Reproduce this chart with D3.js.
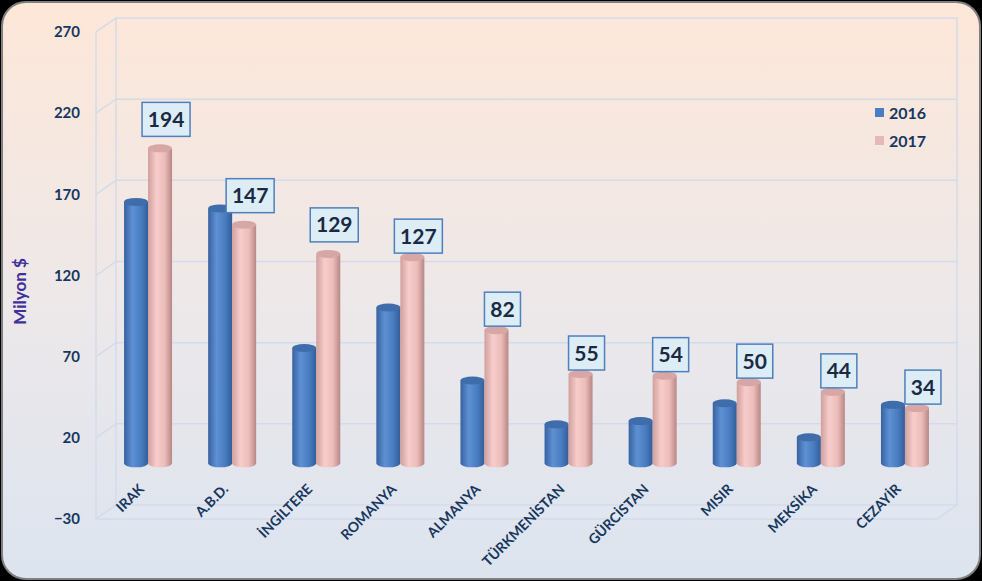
<!DOCTYPE html>
<html>
<head>
<meta charset="utf-8">
<script src="https://cdn.jsdelivr.net/npm/d3@7"></script>
<style>
  body { margin: 0; background: #000; }
  svg { display: block; font-family: Lato, "Open Sans", sans-serif; }
</style>
</head>
<body>
<svg id="drawing_region"></svg>
<script>
// chart values
const categories = ["IRAK", "A.B.D.", "İNGİLTERE", "ROMANYA", "ALMANYA", "TÜRKMENİSTAN", "GÜRCİSTAN", "MISIR", "MEKSİKA", "CEZAYİR"];
const seriesNames = ["2016", "2017"];
const values2016 = [161, 157, 71, 96, 51, 24, 26, 37, 16, 36];
const values2017 = [194, 147, 129, 127, 82, 55, 54, 50, 44, 34];
const tickValues = [-30, 20, 70, 120, 170, 220, 270];

const width = 982, height = 581;
const depth = {dx: 20, dy: -14};
const front = {left: 96, right: 937, top: 32, bottom: 519};

const svg = d3.select('#drawing_region')
    .attr('width', width)
    .attr('height', height);

const defs = svg.append('defs');

const bg = defs.append('linearGradient').attr('id', 'bg')
    .attr('x1', 0).attr('y1', 0).attr('x2', 0).attr('y2', 1);
bg.append('stop').attr('offset', '0%').attr('stop-color', '#fde7d8');
bg.append('stop').attr('offset', '55%').attr('stop-color', '#ece8ea');
bg.append('stop').attr('offset', '100%').attr('stop-color', '#dce4ef');

const cyl = [
    {id: 'g2016', stops: [['0%', '#3762a0'], ['35%', '#5d91d4'], ['70%', '#4a7dc0'], ['100%', '#335d98']], top: '#3f6dab'},
    {id: 'g2017', stops: [['0%', '#cf9f9d'], ['35%', '#f7cdcb'], ['70%', '#ebbcba'], ['100%', '#b88785']], top: '#d7a7a5'}
];
cyl.forEach(c => {
    const g = defs.append('linearGradient').attr('id', c.id)
        .attr('x1', 0).attr('y1', 0).attr('x2', 1).attr('y2', 0);
    c.stops.forEach(s => g.append('stop').attr('offset', s[0]).attr('stop-color', s[1]));
});

// panel
svg.append('rect')
    .attr('x', 2).attr('y', 2)
    .attr('width', width - 4).attr('height', height - 4)
    .attr('rx', 24).attr('ry', 24)
    .attr('fill', 'url(#bg)')
    .attr('stroke', '#7f7f7f')
    .attr('stroke-width', 2);

// scales
const yscale = d3.scaleLinear()
    .domain([-30, 270])
    .range([front.bottom, front.top]);

const xscale = d3.scaleBand()
    .domain(categories)
    .range([front.left + depth.dx / 2, front.right + depth.dx / 2]);

const yMid = v => yscale(v) + depth.dy / 2;

const wall = svg.append('g')
    .attr('fill', 'none')
    .attr('stroke', '#d3dbea')
    .attr('stroke-width', 1.5);

// floor
wall.append('path')
    .attr('d', `M${front.left},${front.bottom} L${front.right},${front.bottom} L${front.right + depth.dx},${front.bottom + depth.dy} L${front.left + depth.dx},${front.bottom + depth.dy} Z`)
    .attr('fill', 'rgba(225,232,242,0.6)');

// side and back walls
wall.append('path')
    .attr('d', `M${front.left},${front.bottom} L${front.left},${front.top} L${front.left + depth.dx},${front.top + depth.dy} L${front.left + depth.dx},${front.bottom + depth.dy}`);
wall.append('path')
    .attr('d', `M${front.left + depth.dx},${front.top + depth.dy} L${front.right + depth.dx},${front.top + depth.dy} L${front.right + depth.dx},${front.bottom + depth.dy}`);

// gridlines
wall.selectAll('.grid')
    .data(tickValues.filter(t => t > -30 && t < 270))
    .join('path')
    .attr('d', t => `M${front.left},${yscale(t)} L${front.left + depth.dx},${yscale(t) + depth.dy} L${front.right + depth.dx},${yscale(t) + depth.dy}`);

// y axis
const yaxis = d3.axisLeft(yscale).tickValues(tickValues).tickSize(0).tickPadding(16);
const yaxisGroup = svg.append('g')
    .attr('transform', `translate(${front.left}, 0)`)
    .call(yaxis);
yaxisGroup.select('.domain').remove();
yaxisGroup.selectAll('text')
    .attr('font-family', 'Lato, sans-serif')
    .attr('font-size', 15)
    .attr('font-weight', 'bold')
    .attr('fill', '#17375e');

svg.append('text')
    .attr('transform', `translate(26, ${yscale(120) + 16}) rotate(-90)`)
    .attr('text-anchor', 'middle')
    .attr('font-size', 17)
    .attr('font-weight', 'bold')
    .attr('fill', '#3f3199')
    .text('Milyon $');

// category labels
svg.append('g').selectAll('text')
    .data(categories)
    .join('text')
    .attr('transform', d => `translate(${xscale(d) + xscale.bandwidth() / 2 - 3}, ${front.bottom - 29}) rotate(-45)`)
    .attr('text-anchor', 'end')
    .attr('font-size', 14)
    .attr('font-weight', 'bold')
    .attr('fill', '#17375e')
    .text(d => d);

// cylinders
const cw = 24, ry = 4;
const series = [values2016, values2017];
const bars = svg.append('g');
categories.forEach((c, i) => {
    const cx = xscale(c) + xscale.bandwidth() / 2;
    series.forEach((vals, s) => {
        const x0 = cx - cw + s * cw;
        const yTop = yMid(vals[i]);
        const yBot = yMid(0);
        const g = bars.append('g');
        g.append('path')
            .attr('d', `M${x0},${yTop} L${x0},${yBot} A${cw / 2},${ry} 0 0 0 ${x0 + cw},${yBot} L${x0 + cw},${yTop} Z`)
            .attr('fill', `url(#${cyl[s].id})`);
        g.append('ellipse')
            .attr('cx', x0 + cw / 2).attr('cy', yTop)
            .attr('rx', cw / 2).attr('ry', ry)
            .attr('fill', cyl[s].top);
    });
});

// data labels on 2017
const labels = svg.append('g');
categories.forEach((c, i) => {
    const v = values2017[i];
    const cx = xscale(c) + xscale.bandwidth() / 2 + cw / 2 + 6;
    const w = String(v).length === 3 ? 48 : 36;
    const h = 34;
    const yb = yMid(v) - 4 - (v > 128 ? 8 : 0);
    labels.append('rect')
        .attr('x', cx - w / 2).attr('y', yb - h)
        .attr('width', w).attr('height', h)
        .attr('fill', '#dcedf5')
        .attr('stroke', '#4f7fbc')
        .attr('stroke-width', 1.5);
    labels.append('text')
        .attr('x', cx).attr('y', yb - h / 2)
        .attr('dy', '0.36em')
        .attr('text-anchor', 'middle')
        .attr('font-size', 21)
        .attr('font-weight', 'bold')
        .attr('fill', '#1b2a44')
        .text(v);
});

// legend
const legend = svg.append('g');
seriesNames.forEach((n, s) => {
    const y = 113 + s * 28;
    legend.append('rect')
        .attr('x', 875).attr('y', y - 5)
        .attr('width', 9).attr('height', 9)
        .attr('fill', s === 0 ? '#4a7ec2' : '#e6b9b8');
    legend.append('text')
        .attr('x', 889).attr('y', y)
        .attr('dy', '0.36em')
        .attr('font-size', 16)
        .attr('font-weight', 'bold')
        .attr('fill', '#17375e')
        .text(n);
});
</script>
</body>
</html>
